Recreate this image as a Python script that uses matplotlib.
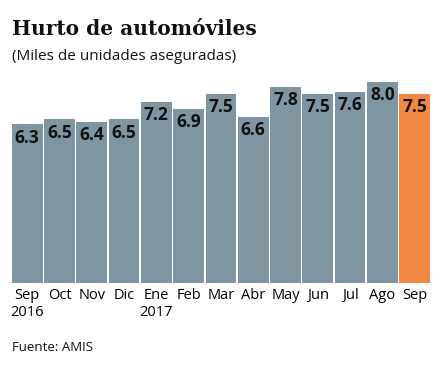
import matplotlib
matplotlib.use("Agg")
import matplotlib.pyplot as plt

# Data
months = ['Sep\n2016', 'Oct', 'Nov', 'Dic', 'Ene\n2017', 'Feb', 'Mar',
          'Abr', 'May', 'Jun', 'Jul', 'Ago', 'Sep']
values = [6.3, 6.5, 6.4, 6.5, 7.2, 6.9, 7.5, 6.6, 7.8, 7.5, 7.6, 8.0, 7.5]

BAR_COLOR = '#7f95a1'
LAST_COLOR = '#f28844'

fig = plt.figure(figsize=(4.41, 3.66), dpi=100)
ax = fig.add_axes([0.025, 0.227, 0.952, 0.557])

colors = [BAR_COLOR] * (len(values) - 1) + [LAST_COLOR]
x = range(len(values))
ax.bar(x, values, width=0.95, color=colors, edgecolor='none')

for xi, v in zip(x, values):
    ax.annotate('%.1f' % v, (xi, v), xytext=(0, -9.5), textcoords='offset points',
                ha='center', va='center', fontsize=12.5, fontweight='bold',
                family=['Open Sans', 'DejaVu Sans'], color='#111111')

ax.set_xlim(-0.5, len(values) - 0.5)
ax.set_ylim(0, 8.1)
ax.set_xticks(list(x))
ax.set_xticklabels(months, fontsize=10.5, family=['Open Sans', 'DejaVu Sans'],
                   linespacing=1.15, ha='center')
ax.tick_params(axis='x', length=0, pad=4)
ax.set_yticks([])
for s in ax.spines.values():
    s.set_visible(False)

fig.text(0.027, 0.905, 'Hurto de automóviles', fontsize=14.5, fontweight='bold',
         family=['DejaVu Serif'], color='#111111')
fig.text(0.027, 0.835, '(Miles de unidades aseguradas)', fontsize=11,
         family=['Open Sans', 'DejaVu Sans'], color='#111111')
fig.text(0.027, 0.04, 'Fuente: AMIS', fontsize=9.5,
         family=['Open Sans', 'DejaVu Sans'], color='#111111')

fig.savefig('out.png', dpi=100)
